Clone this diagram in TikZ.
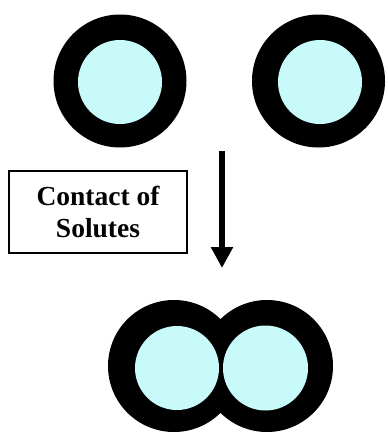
\documentclass[tikz,border=0pt]{standalone}
\usepackage{fontspec}
\setmainfont{Liberation Serif}
\usetikzlibrary{arrows.meta}
\definecolor{solute}{RGB}{200,250,250}
\begin{document}
\begin{tikzpicture}[x=1pt,y=-1pt,
  outerring/.style={circle,fill=black,minimum size=133pt,inner sep=0pt},
  innercore/.style={circle,fill=solute,minimum size=84pt,inner sep=0pt},
  labelbox/.style={draw=black,line width=1.3pt,minimum width=178pt,minimum height=82pt,inner sep=0pt,align=center,font=\fontsize{27.5}{32}\selectfont\bfseries},
  flow/.style={line width=6pt,-{Triangle[width=21pt,length=21pt]}}]
\useasboundingbox (0,0) rectangle (388,434);
% top circles
\node[outerring] (o1) at (120,81) {};
\node[innercore] (i1) at (120,82) {};
\node[outerring] (o2) at (318.5,81) {};
\node[innercore] (i2) at (320,82) {};
% bottom merged pair
\node[outerring,minimum size=132pt] (o3) at (174,366) {};
\node[outerring,minimum size=132pt] (o4) at (267,366) {};
\node[innercore] (i3) at (177,368) {};
\node[innercore,minimum size=85pt] (i4) at (265.5,368) {};
% arrow
\coordinate (a1) at (222,151);
\coordinate (a2) at (222,268);
\draw[flow] (a1) -- (a2);
% label
\node[labelbox] (lbl) at (98,212) {Contact of\\Solutes};
\end{tikzpicture}
\end{document}
